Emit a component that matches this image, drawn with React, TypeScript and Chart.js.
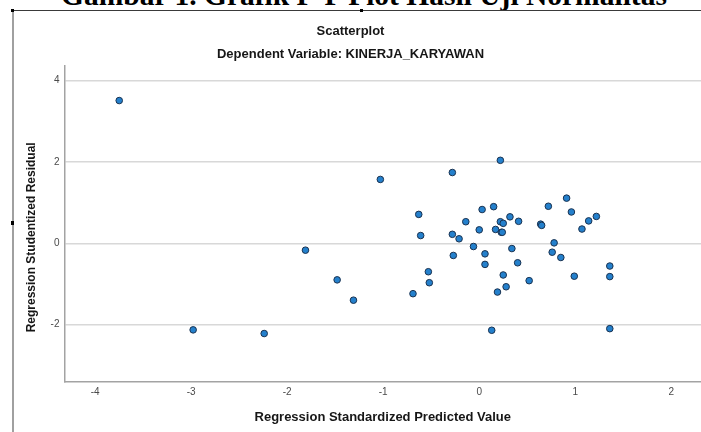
import React, { useEffect, useRef } from "react";
import { Chart, registerables } from "chart.js";

Chart.register(...registerables);

// Regression Standardized Predicted Value (x) and Studentized Residual (y)
const predicted: number[] = [
  -3.75, -2.98, -2.24, -1.81, -1.48, -1.31, -1.03, -0.69, -0.63, -0.61,
  -0.53, -0.52, -0.28, -0.28, -0.27, -0.21, -0.14, -0.06, 0.0, 0.03,
  0.06, 0.06, 0.13, 0.15, 0.17, 0.19, 0.22, 0.22, 0.23, 0.24,
  0.25, 0.25, 0.28, 0.32, 0.34, 0.4, 0.41, 0.52, 0.64, 0.65,
  0.72, 0.76, 0.78, 0.85, 0.91, 0.96, 0.99, 1.07, 1.14, 1.22,
  1.36, 1.36, 1.36,
];
const residual: number[] = [
  3.51, -2.13, -2.22, -0.17, -0.9, -1.4, 1.57, -1.24, 0.71, 0.19,
  -0.7, -0.97, 1.74, 0.22, -0.3, 0.11, 0.53, -0.08, 0.33, 0.83,
  -0.26, -0.52, -2.14, 0.9, 0.34, -1.2, 2.04, 0.53, 0.27, 0.27,
  0.49, -0.78, -1.07, 0.65, -0.13, -0.48, 0.54, -0.92, 0.47, 0.44,
  0.91, -0.22, 0.01, -0.35, 1.11, 0.77, -0.81, 0.35, 0.55, 0.66,
  -0.56, -0.82, -2.1,
];
const xTicks: number[] = [-4, -3, -2, -1, 0, 1, 2];
const yTicks: number[] = [-2, 0, 2, 4];

const captionText = "Gambar 1. Grafik P-P Plot Hasil Uji Normalitas";
const titleText = "Scatterplot";
const subtitleText = "Dependent Variable: KINERJA_KARYAWAN";
const xTitleText = "Regression Standardized Predicted Value";
const yTitleText = "Regression Studentized Residual";

const FONT = "'Liberation Sans', Arial, sans-serif";

const yTitlePlugin = {
  id: "yTitleOffset",
  afterDraw(chart: any) {
    const { ctx, chartArea } = chart;
    const yScale = chart.scales.y;
    ctx.save();
    ctx.translate(yScale.left + 32, chartArea.top + (chartArea.bottom - chartArea.top) * 0.543);
    ctx.rotate(-Math.PI / 2);
    ctx.font = `bold 12px ${FONT}`;
    ctx.fillStyle = "#161616";
    ctx.textAlign = "center";
    ctx.textBaseline = "middle";
    ctx.fillText(yTitleText, 0, 0);
    ctx.restore();
  },
};

export default function App() {
  const ref = useRef<HTMLCanvasElement | null>(null);

  useEffect(() => {
    if (!ref.current) return;
    const points = predicted.map((x, i) => ({ x, y: residual[i] }));
    const chart = new Chart(ref.current, {
      type: "scatter",
      data: {
        datasets: [
          {
            data: points,
            backgroundColor: "#2480cc",
            borderColor: "#1a3250",
            borderWidth: 1,
            pointRadius: 3.3,
            pointHoverRadius: 3.3,
          },
        ],
      },
      plugins: [yTitlePlugin],
      options: {
        animation: false,
        responsive: false,
        events: [],
        layout: { autoPadding: false, padding: { left: 0, right: 0, top: 0, bottom: 0 } },
        plugins: {
          legend: { display: false },
          tooltip: { enabled: false },
          title: {
            display: true,
            text: titleText,
            color: "#161616",
            font: { family: FONT, size: 13, weight: "bold", lineHeight: 1.2 },
            padding: { top: 24, bottom: 7 },
          },
          subtitle: {
            display: true,
            text: subtitleText,
            color: "#161616",
            font: { family: FONT, size: 13, weight: "bold", lineHeight: 1.2 },
            padding: { top: 0, bottom: 3.8 },
          },
        },
        scales: {
          x: {
            type: "linear",
            min: -4.32,
            max: 2.31,
            afterBuildTicks: (s: any) => {
              s.ticks = xTicks.map((v) => ({ value: v }));
            },
            afterFit: (s: any) => {
              s.height = 50.5;
            },
            grid: { display: false, drawTicks: false },
            border: { display: true, color: "#a3a3a3", width: 1.5 },
            ticks: {
              padding: 5,
              color: "#4a4a4a",
              maxRotation: 0,
              autoSkip: false,
              font: { family: FONT, size: 10 },
            },
            title: {
              display: true,
              text: xTitleText,
              color: "#161616",
              font: { family: FONT, size: 13, weight: "bold", lineHeight: 1.2 },
              padding: { top: 0, bottom: 7 },
            },
          },
          y: {
            type: "linear",
            min: -3.4,
            max: 4.36,
            afterBuildTicks: (s: any) => {
              s.ticks = yTicks.map((v) => ({ value: v }));
            },
            afterFit: (s: any) => {
              s.width = 64.5;
            },
            grid: { display: true, drawTicks: false, color: "#d8d8d8", lineWidth: 1.5 },
            border: { display: true, color: "#a3a3a3", width: 1.5 },
            ticks: {
              padding: 5,
              color: "#4a4a4a",
              autoSkip: false,
              font: { family: FONT, size: 10 },
            },
            title: { display: false },
          },
        },
      },
    } as any);
    return () => chart.destroy();
  }, []);

  return (
    <div
      style={{
        position: "fixed",
        left: 0,
        top: 0,
        width: 701,
        height: 432,
        background: "#fff",
        overflow: "hidden",
      }}
    >
      <div
        style={{
          position: "absolute",
          left: 0,
          top: -19,
          width: 728,
          textAlign: "center",
          fontFamily: "'Liberation Serif', 'Times New Roman', serif",
          fontWeight: "bold",
          fontSize: 29.5,
          lineHeight: "29.5px",
          whiteSpace: "nowrap",
          color: "#000",
        }}
      >
        {captionText}
      </div>
      <div style={{ position: "absolute", left: 12, top: 9.5, width: 689, height: 1, background: "#3a3a3a" }} />
      <div style={{ position: "absolute", left: 12, top: 9.5, width: 1.5, height: 423, background: "#a0a0a0" }} />
      <div style={{ position: "absolute", left: 11, top: 8.5, width: 3, height: 3, background: "#000" }} />
      <div style={{ position: "absolute", left: 360, top: 8.5, width: 3, height: 3, background: "#000" }} />
      <div style={{ position: "absolute", left: 11, top: 221, width: 3, height: 4, background: "#000" }} />
      <canvas
        ref={ref}
        width={701}
        height={432}
        style={{ position: "absolute", left: 0, top: 0, width: 701, height: 432 }}
      />
    </div>
  );
}
